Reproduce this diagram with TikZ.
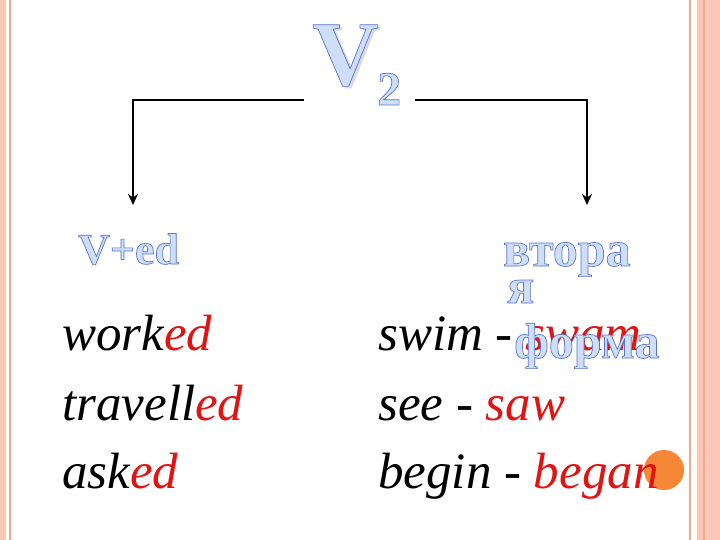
\documentclass[tikz,border=0pt]{standalone}
\usepackage{fontspec}
\usetikzlibrary{arrows.meta}
\setmainfont{Liberation Serif}
\newfontfamily\outfont{Liberation Serif}
\definecolor{fillblue}{RGB}{205,222,246}
\definecolor{pinkband}{RGB}{250,200,180}
\definecolor{pinkline}{RGB}{240,170,150}
\definecolor{redtext}{RGB}{225,20,20}
\definecolor{dot}{RGB}{245,135,55}
\newcommand{\outl}[1]{\special{pdf:literal direct 0.35 0.45 0.78 RG 0.7 w 2 Tr}#1\special{pdf:literal direct 0 Tr}}
\begin{document}
\begin{tikzpicture}[x=1pt,y=-1pt,
  outtext/.style={inner sep=0pt,anchor=base west,text=fillblue,font=\outfont\bfseries},
  listtext/.style={inner sep=0pt,anchor=base west,font=\fontsize{51}{56}\selectfont\itshape},
  conn/.style={line width=2.6pt,-{Stealth[length=11pt,width=10pt]}}]
\useasboundingbox (0,0) rectangle (720,540);
\fill[white] (0,0) rectangle (720,540);
\fill[pinkband] (0,0) rectangle (6,540);
\draw[pinkline,line width=1.5pt] (10,0) -- (10,540);
\draw[pinkline,line width=1.8pt] (690,0) -- (690,540);
\fill[pinkband] (697,0) rectangle (720,540);
\draw[pinkline,line width=1.2pt] (704,0) -- (704,540);
\coordinate (lstart) at (304,100);
\coordinate (rstart) at (415,100);
\coordinate (ltip) at (133,205);
\coordinate (rtip) at (587,205);
\draw[conn] (lstart) -| (ltip);
\draw[conn] (rstart) -| (rtip);
\fill[dot] (664,470) circle (20);
\node[listtext] (w1) at (62,350) {work\textcolor{redtext}{ed}};
\node[listtext] (w2) at (62,420) {travell\textcolor{redtext}{ed}};
\node[listtext] (w3) at (62,488) {ask\textcolor{redtext}{ed}};
\node[listtext] (s1) at (378,350) {swim - \textcolor{redtext}{swam}};
\node[listtext] (s2) at (378,420) {see - \textcolor{redtext}{saw}};
\node[listtext] (s3) at (378,488) {begin - \textcolor{redtext}{began}};
\node[outtext,text=black!15,font=\outfont\bfseries\fontsize{92}{92}\selectfont] (vs) at (315,88) {V};
\node[outtext,font=\outfont\bfseries\fontsize{92}{92}\selectfont] (v) at (312,85) {\outl{V}};
\node[outtext,font=\outfont\bfseries\fontsize{48}{48}\selectfont] (two) at (377,105) {\outl{2}};
\node[outtext,font=\outfont\bfseries\fontsize{44}{44}\selectfont] (ved) at (78,264) {\outl{V+ed}};
\node[outtext,font=\outfont\bfseries\fontsize{50}{50}\selectfont] (vt1) at (503,266) {\outl{втора}};
\node[outtext,font=\outfont\bfseries\fontsize{50}{50}\selectfont] (vt2) at (507,303) {\outl{я}};
\node[outtext,font=\outfont\bfseries\fontsize{50}{50}\selectfont] (vt3) at (514,358) {\outl{форма}};
\end{tikzpicture}
\end{document}
